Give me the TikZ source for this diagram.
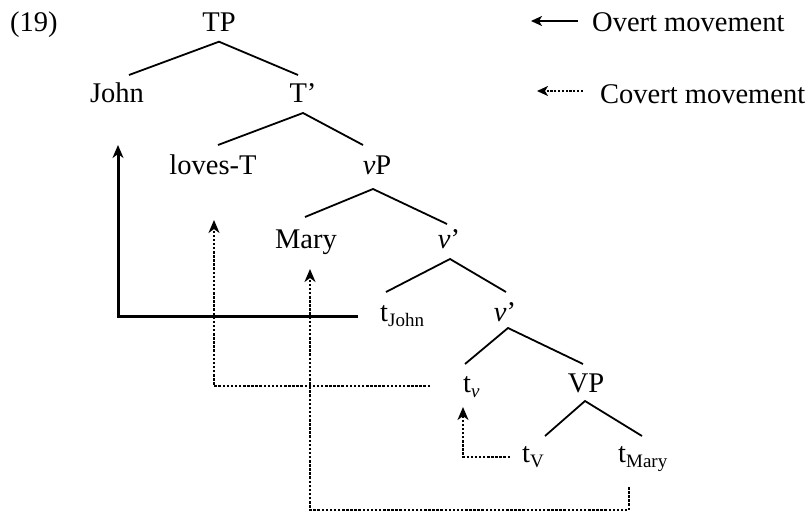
\documentclass[tikz,border=0pt]{standalone}
\usepackage{fontspec}
\setmainfont{Liberation Serif}
\usetikzlibrary{arrows.meta,calc}
\newcommand\mysub[1]{\raisebox{-5pt}{\fontsize{19}{19}\selectfont #1}}
\begin{document}
\begin{tikzpicture}[x=1pt,y=-1pt,
  lab/.style={font=\fontsize{28.5}{30}\selectfont, inner sep=0pt, anchor=base},
  labw/.style={lab, anchor=base west},
  branch/.style={line width=1.8pt},
  tip/.style={-{Stealth[length=13pt,width=11pt,inset=4pt]}},
  overt/.style={tip, line width=3pt},
  covert/.style={tip, line width=2.8pt, dash pattern=on 2.5pt off 1.6pt},
  legovert/.style={line width=2.2pt, -{Stealth[length=11pt,width=10pt,inset=3pt]}},
  legcovert/.style={line width=2.4pt, dash pattern=on 2.2pt off 1.6pt, -{Stealth[length=11pt,width=10pt,inset=3pt]}},
]
\useasboundingbox (0,0) rectangle (811,514);
\node[labw] (ex) at (10,31) {(19)};
\node[lab] (TP) at (219,31) {TP};
\node[lab] (John) at (117,102) {John};
\node[lab] (Tbar) at (303,102) {T’};
\node[lab] (loves) at (213,174) {loves-T};
\node[lab] (vP) at (377,174) {\textit{v}P};
\node[lab] (Mary) at (306,248) {Mary};
\node[lab] (vbar1) at (449,248) {\textit{v}’};
\node[labw] (tJohn) at (380,321) {t\mysub{John}};
\node[lab] (vbar2) at (505,321) {\textit{v}’};
\node[labw] (tv) at (463,392) {t\mysub{\textit{v}}};
\node[lab] (VP) at (586,392) {VP};
\node[labw] (tV) at (522,462) {t\mysub{V}};
\node[labw] (tMary) at (618,462) {t\mysub{Mary}};
\node[labw] (overtlab) at (592,31) {Overt movement};
\node[labw] (covertlab) at (600,103) {Covert movement};
% branches
\draw[branch] ($(John.base)+(12,-27)$) -- ($(TP.base)+(0,10.7)$) -- ($(Tbar.base)+(-5,-27)$);
\draw[branch] ($(loves.base)+(5,-29)$) -- ($(Tbar.base)+(0,11)$) -- ($(vP.base)+(-14,-29)$);
\draw[branch] ($(Mary.base)+(-1,-31)$) -- ($(vP.base)+(-4,15)$) -- ($(vbar1.base)+(-2,-24)$);
\draw[branch] ($(tJohn.base west)+(6,-29)$) -- ($(vbar1.base)+(1,11)$) -- ($(vbar2.base)+(1,-29)$);
\draw[branch] ($(tv.base west)+(2,-28)$) -- ($(vbar2.base)+(3,7)$) -- ($(VP.base)+(-3,-28)$);
\draw[branch] ($(tV.base west)+(23,-26)$) -- ($(VP.base)+(-1,9)$) -- ($(tMary.base west)+(24,-26)$);
% movement arrows
\draw[overt] ($(tJohn.base west)+(-22,-5)$) -| ($(John.base)+(1,43)$);
\draw[covert] ($(tv.base west)+(-33,-6)$) -| ($(loves.base)+(1,46)$);
\draw[covert] ($(tMary.base west)+(11,25)$) -- ++(0,23) -| ($(Mary.base)+(4,21)$);
\draw[covert] ($(tV.base west)+(-12,-5)$) -| ($(tv.base west)+(0,15)$);
% legend
\draw[legovert] ($(overtlab.base west)+(-14,-10)$) -- ++(-47,0);
\draw[legcovert] ($(covertlab.base west)+(-17,-12)$) -- ++(-46,0);
\end{tikzpicture}
\end{document}
